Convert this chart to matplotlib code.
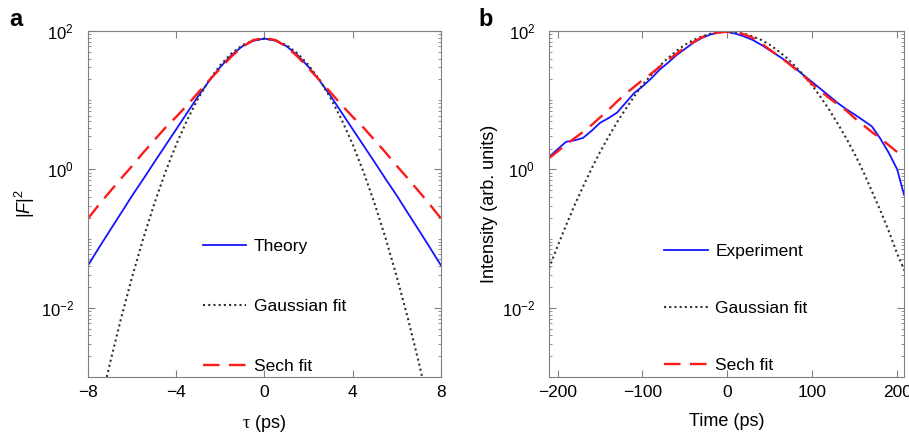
import numpy as np
import matplotlib
matplotlib.use("Agg")
import matplotlib.pyplot as plt
from matplotlib.ticker import LogLocator, NullFormatter, FixedLocator

plt.rcParams['font.family'] = ['Liberation Sans', 'DejaVu Sans']
plt.rcParams['mathtext.fontset'] = 'custom'
plt.rcParams['mathtext.rm'] = 'Liberation Sans'
plt.rcParams['mathtext.it'] = 'Liberation Sans:italic'
plt.rcParams['mathtext.sf'] = 'Liberation Serif'

## panel a data
tau = [-8, -7.5, -7, -6.5, -6, -5.5, -5, -4.5, -4, -3.5, -3, -2.5, -2, -1.5, -1, -0.5, 0,
       0.5, 1, 1.5, 2, 2.5, 3, 3.5, 4, 4.5, 5, 5.5, 6, 6.5, 7, 7.5, 8]
theory = [0.041, 0.074, 0.132, 0.234, 0.417, 0.72, 1.26, 2.19, 3.8, 6.6, 11.5, 19.1, 30.2, 44.7, 60.3, 72.4, 77.6,
          72.4, 60.3, 44.7, 30.2, 19.1, 11.5, 6.6, 3.8, 2.19, 1.26, 0.72, 0.417, 0.234, 0.132, 0.074, 0.041]
gauss_a = [0.000059, 0.00032, 0.0016, 0.00705, 0.0279, 0.099, 0.315, 0.90, 2.29, 5.22, 10.7, 19.6, 32.1, 47.3, 62.3, 73.5, 77.6,
           73.5, 62.3, 47.3, 32.1, 19.6, 10.7, 5.22, 2.29, 0.90, 0.315, 0.099, 0.0279, 0.00705, 0.0016, 0.00032, 0.000059]
sech_a = [0.195, 0.31, 0.48, 0.74, 1.12, 1.74, 2.63, 3.98, 5.75, 8.5, 12.9, 19.5, 28.8, 42.7, 59, 74, 79.4,
          74, 59, 42.7, 28.8, 19.5, 12.9, 8.5, 5.75, 3.98, 2.63, 1.74, 1.12, 0.74, 0.48, 0.31, 0.195]

## panel b data
t_exp = [-210, -200, -190, -180, -170, -160, -150, -140, -130, -120, -110, -100, -90, -80, -70, -60, -50, -40,
         -30, -20, -10, 0, 10, 20, 30, 40, 50, 60, 70, 80, 90, 100, 110, 120, 130, 140, 150, 160, 170, 180,
         190, 200, 208]
experiment = [1.51, 1.95, 2.5, 2.63, 2.85, 3.6, 4.7, 5.5, 6.6, 9.1, 12.6, 15.8, 20.4, 27.5, 34.7, 44.7, 55, 67.6,
              79.4, 89, 95.5, 96.6, 91.2, 83.2, 74, 63, 52.5, 43.7, 36.3, 28.8, 22.9, 18.2, 14.5, 11.5, 9.1, 7.4,
              6.2, 5.1, 4.2, 2.8, 1.74, 1.0, 0.43]
t_fit = [-210, -200, -190, -180, -170, -160, -150, -140, -130, -120, -110, -100, -90, -80, -70, -60, -50, -40,
         -30, -20, -10, 0, 10, 20, 30, 40, 50, 60, 70, 80, 90, 100, 110, 120, 130, 140, 150, 160, 170, 180,
         190, 200, 210]
gauss_b = [0.0372, 0.0776, 0.155, 0.302, 0.562, 1.02, 1.78, 2.95, 4.79, 7.41, 11.2, 16.6, 22.9, 30.9, 40.7, 51.3,
           63.1, 74.1, 83.2, 91.2, 95.5, 97.7, 95.5, 91.2, 83.2, 74.1, 63.1, 51.3, 40.7, 30.9, 22.9, 16.2, 11.0,
           7.24, 4.57, 2.82, 1.66, 0.933, 0.49, 0.257, 0.129, 0.0603, 0.0316]
sech_b = [1.45, 1.82, 2.29, 2.82, 3.47, 4.37, 5.62, 7.24, 9.55, 12.3, 15.5, 19.5, 24.0, 30.2, 38.0, 46.8, 57.5,
          69.2, 81.3, 90.2, 95.5, 97.7, 95.5, 89.1, 79.4, 66.1, 53.7, 43.7, 35.5, 28.2, 22.4, 17.0, 13.5, 10.7,
          8.71, 7.08, 5.50, 4.37, 3.47, 2.82, 2.24, 1.78, 1.41]

blue = '#1414ff'
red = '#ff1a1a'
dot_col = '#303030'

fig = plt.figure(figsize=(9.09, 4.37), dpi=100)
ax1 = fig.add_axes([0.0968, 0.1373, 0.3883, 0.7918])
ax2 = fig.add_axes([0.604, 0.1373, 0.3905, 0.7918])


def style_axis(ax):
    ax.set_yscale('log')
    ax.set_ylim(1e-3, 1e2)
    ax.yaxis.set_major_locator(FixedLocator([1e-2, 1e0, 1e2]))
    ax.yaxis.set_minor_locator(LogLocator(base=10, subs=np.arange(1, 10), numticks=20))
    ax.yaxis.set_minor_formatter(NullFormatter())
    ax.tick_params(which='both', direction='in', top=True, right=True, colors='#808080', labelcolor='black')
    ax.tick_params(axis='x', labelsize=12.5, pad=6)
    ax.tick_params(axis='y', labelsize=12, pad=10)
    ax.tick_params(which='major', length=5, width=0.8)
    ax.tick_params(which='minor', length=2.5, width=0.6)
    for s in ax.spines.values():
        s.set_color('#808080')
        s.set_linewidth(0.8)


# panel a
ax1.plot(tau, theory, color=blue, lw=1.3, label='Theory')
ax1.plot(tau, gauss_a, color=dot_col, lw=1.5, dashes=(1, 1.5), dash_capstyle='butt', label='Gaussian fit')
ax1.plot(tau, sech_a, color=red, lw=1.7, dashes=(7, 4), label='Sech fit')
style_axis(ax1)
ax1.set_xlim(-8, 8)
ax1.set_xticks([-8, -4, 0, 4, 8])
ax1.set_xlabel(r'$\mathsf{\tau}$ (ps)', fontsize=13, labelpad=9)
ax1.set_ylabel(r'$|F|^2$', fontsize=13, labelpad=3)
ax1.legend(loc='upper left', bbox_to_anchor=(0.30, 0.425), frameon=False, fontsize=12.5,
           handlelength=2.5, handletextpad=0.45, labelspacing=2.6, borderpad=0)

# panel b
ax2.plot(t_exp, experiment, color=blue, lw=1.3, label='Experiment')
ax2.plot(t_fit, gauss_b, color=dot_col, lw=1.5, dashes=(1, 1.5), dash_capstyle='butt', label='Gaussian fit')
ax2.plot(t_fit, sech_b, color=red, lw=1.7, dashes=(7, 4), label='Sech fit')
style_axis(ax2)
ax2.set_xlim(-210, 208)
ax2.set_xticks([-200, -100, 0, 100, 200])
ax2.set_xlabel('Time (ps)', fontsize=13, labelpad=9)
ax2.set_ylabel('Intensity (arb. units)', fontsize=13, labelpad=3)
ax2.legend(loc='upper left', bbox_to_anchor=(0.30, 0.41), frameon=False, fontsize=12.5,
           handlelength=2.5, handletextpad=0.45, labelspacing=2.4, borderpad=0)

fig.text(0.010, 0.955, 'a', fontsize=17, fontweight='bold', va='center')
fig.text(0.526, 0.955, 'b', fontsize=17, fontweight='bold', va='center')

fig.savefig('out.png', dpi=100)
